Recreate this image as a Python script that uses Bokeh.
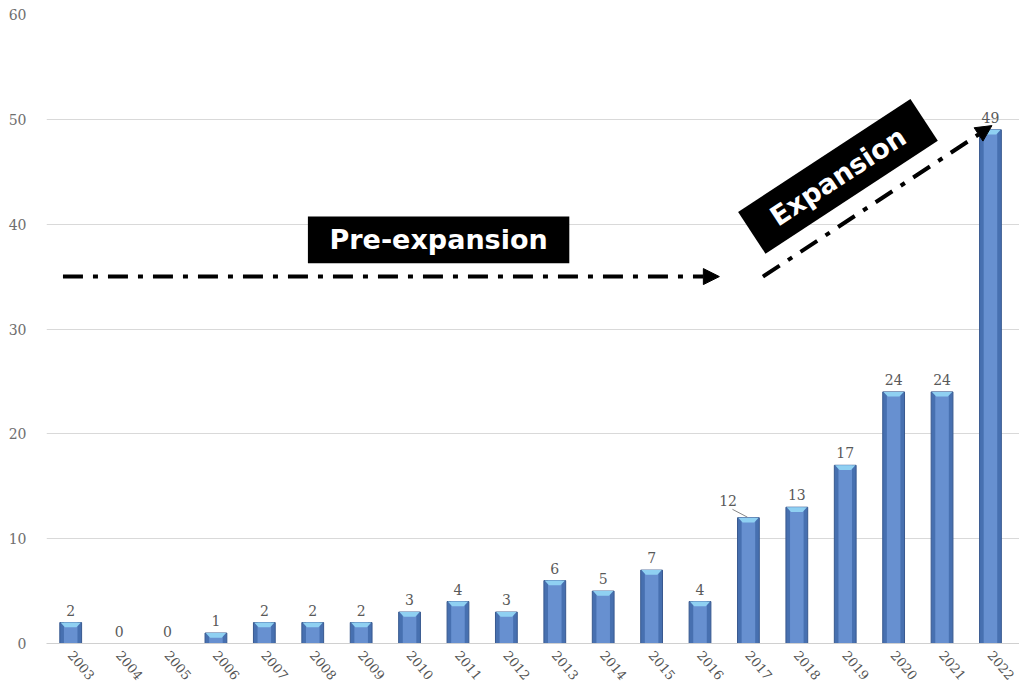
import math
from bokeh.plotting import figure
from bokeh.models import Range1d, Arrow, NormalHead, FixedTicker, Label, BoxAnnotation
from bokeh.core.properties import value
from bokeh.embed import file_html
from bokeh.resources import INLINE

years = [str(y) for y in range(2003, 2023)]
counts = [2, 0, 0, 1, 2, 2, 2, 3, 4, 3, 6, 5, 7, 4, 12, 13, 17, 24, 24, 49]
y_ticks = [0, 10, 20, 30, 40, 50, 60]

xs = list(range(len(years)))

p = figure(width=1019, height=688, output_backend="svg", toolbar_location=None,
           x_range=Range1d(-0.5, 19.6), y_range=Range1d(0, 60),
           min_border_left=46, min_border_right=0, min_border_top=14, min_border_bottom=45)
p.outline_line_color = None
p.background_fill_color = "white"
p.border_fill_color = "white"

p.xgrid.grid_line_color = None
p.ygrid.grid_line_color = "#D9D9D9"
p.ygrid.grid_line_width = 1

p.yaxis.ticker = FixedTicker(ticks=y_ticks)
p.yaxis.axis_line_color = None
p.yaxis.major_tick_line_color = None
p.yaxis.minor_tick_line_color = None
p.yaxis.major_label_standoff = 14
p.yaxis.major_label_text_font = "DejaVu Serif"
p.yaxis.major_label_text_font_size = "14px"
p.yaxis.major_label_text_color = "#6E6E6E"

p.xaxis.ticker = FixedTicker(ticks=xs)
p.xaxis.major_label_overrides = {i: y for i, y in zip(xs, years)}
p.xaxis.axis_line_color = "#D0D0D0"
p.xaxis.major_tick_line_color = None
p.xaxis.minor_tick_line_color = None
p.xaxis.major_label_orientation = -0.87
p.xaxis.major_label_standoff = 3
p.xaxis.major_label_text_font = "DejaVu Serif"
p.xaxis.major_label_text_font_size = "13px"
p.xaxis.major_label_text_color = "#555555"

# bars
p.vbar(x=xs, top=counts, width=0.45, fill_color="#4770B0", line_color="#38598F", line_width=1)
p.vbar(x=xs, top=counts, width=0.28, fill_color="#6790D0", line_color=None)
cap_x = []
cap_y = []
for i, v in zip(xs, counts):
    if v > 0:
        cap_x.append([i - 0.21, i + 0.21, i + 0.12, i - 0.12])
        cap_y.append([v, v, v - 0.45, v - 0.45])
p.patches(cap_x, cap_y, fill_color="#8FD0F2", line_color=None)

# value labels
lab_x = [i for i, v in zip(xs, counts) if v != 12]
lab_v = [v for v in counts if v != 12]
p.text(x=lab_x, y=lab_v, text=[str(v) for v in lab_v], text_align="center",
       text_baseline="bottom", y_offset=-7, text_font=value("DejaVu Serif"),
       text_font_size="14px", text_color="#595959")
i12 = counts.index(12)
p.text(x=[i12 - 0.42], y=[12], text=["12"], text_align="center", text_baseline="bottom",
       y_offset=-12, text_font=value("DejaVu Serif"), text_font_size="14px", text_color="#595959")
p.segment(x0=[i12 - 0.33], y0=[12.8], x1=[i12 - 0.02], y1=[12.05], line_color="#888888", line_width=1)

# pre-expansion annotation
p.add_layout(BoxAnnotation(left=4.9, right=10.3, bottom=36.26, top=40.74,
                           fill_color="black", fill_alpha=1.0, line_color=None))
p.add_layout(Label(x=7.6, y=38.5, text="Pre-expansion", text_align="center",
                   text_baseline="middle", text_color="white", text_font="DejaVu Sans",
                   text_font_style="bold", text_font_size="27px"))
p.add_layout(Arrow(end=NormalHead(size=16, fill_color="black", line_color="black"),
                   x_start=-0.16, y_start=35, x_end=13.4, y_end=35,
                   line_width=4, line_dash="20 10 5 10", line_color="black"))

# expansion annotation
ang = 0.58
p.rect(x=[15.85], y=[44.56], width=[206], height=[50], width_units="screen",
       height_units="screen", angle=ang, fill_color="black", line_color=None)
p.add_layout(Label(x=15.85, y=44.56, text="Expansion", angle=ang, text_align="center",
                   text_baseline="middle", text_color="white", text_font="DejaVu Sans",
                   text_font_style="bold", text_font_size="27px"))
p.add_layout(Arrow(end=NormalHead(size=16, fill_color="black", line_color="black"),
                   x_start=14.3, y_start=35.0, x_end=19.03, y_end=49.4,
                   line_width=4, line_dash="20 10 5 10", line_color="black"))

open("out.html", "w").write(file_html(p, INLINE))
